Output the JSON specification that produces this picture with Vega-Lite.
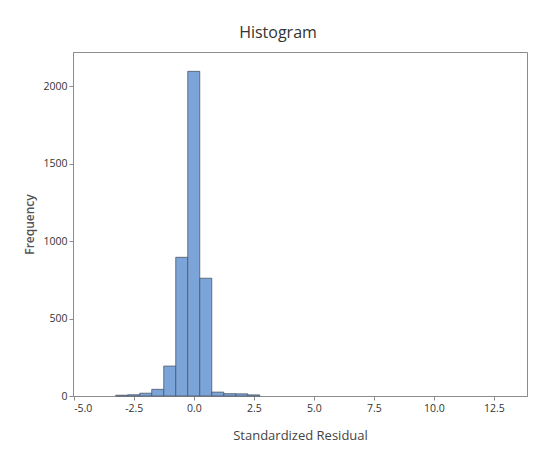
{
  "$schema": "https://vega.github.io/schema/vega-lite/v6.json",
  "autosize": "none",
  "width": 454,
  "height": 344,
  "padding": {"left": 73, "top": 52, "right": 20, "bottom": 58},
  "background": "white",
  "title": {"text": "Histogram", "fontSize": 16, "font": "Open Sans", "fontWeight": "normal", "color": "#333333", "offset": 11, "dx": -22},
  "config": {
    "view": {"stroke": "#8c8c8c", "strokeWidth": 1},
    "axis": {"grid": false, "labelFont": "Open Sans", "titleFont": "Open Sans", "labelColor": "#333333", "titleColor": "#444444", "domainColor": "#8c8c8c", "tickColor": "#8c8c8c", "labelFontSize": 10.5, "tickSize": 4}
  },
  "data": {"values": [
    {"bin_start": -3.25, "bin_end": -2.75, "count": 5},
    {"bin_start": -2.75, "bin_end": -2.25, "count": 8},
    {"bin_start": -2.25, "bin_end": -1.75, "count": 18},
    {"bin_start": -1.75, "bin_end": -1.25, "count": 43},
    {"bin_start": -1.25, "bin_end": -0.75, "count": 193},
    {"bin_start": -0.75, "bin_end": -0.25, "count": 895},
    {"bin_start": -0.25, "bin_end": 0.25, "count": 2095},
    {"bin_start": 0.25, "bin_end": 0.75, "count": 760},
    {"bin_start": 0.75, "bin_end": 1.25, "count": 25},
    {"bin_start": 1.25, "bin_end": 1.75, "count": 15},
    {"bin_start": 1.75, "bin_end": 2.25, "count": 14},
    {"bin_start": 2.25, "bin_end": 2.75, "count": 7}
  ]},
  "mark": {"type": "rect", "fill": "#7ba4d9", "stroke": "#4d5566", "strokeWidth": 0.8},
  "encoding": {
    "x": {"field": "bin_start", "type": "quantitative", "scale": {"domain": [-5.03, 13.88], "nice": false, "zero": false},
      "axis": {"values": [-5, -2.5, 0, 2.5, 5, 7.5, 10, 12.5], "labelExpr": "replace(format(datum.value, '.1f'), '\u2212', '-')", "title": "Standardized Residual", "titleFontSize": 13, "titleFontWeight": "normal", "titlePadding": 16, "labelPadding": 3}},
    "x2": {"field": "bin_end"},
    "y": {"field": "count", "type": "quantitative", "scale": {"domain": [0, 2220], "nice": false},
      "axis": {"values": [0, 500, 1000, 1500, 2000], "format": "d", "title": "Frequency", "titleFontSize": 12, "titleFontWeight": 600, "titleColor": "#555555", "titlePadding": 6, "labelPadding": 2}},
    "y2": {"datum": 0}
  }
}
